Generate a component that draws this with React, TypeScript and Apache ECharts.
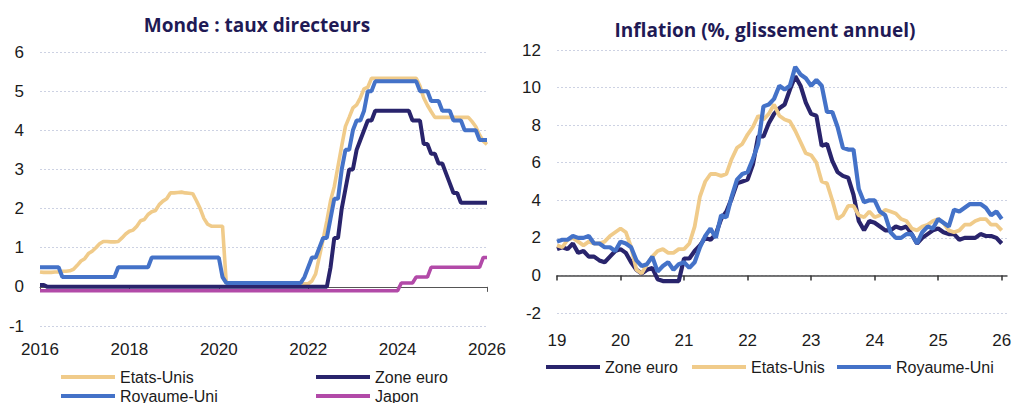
import React, { useEffect, useRef } from "react";
import * as echarts from "echarts";

// ---------- Data ----------
const RATE_START = 2016; // monthly points, first = Jan 2016
const INFL_START = 2019; // monthly points, first = Jan 2019
const RATE_TICKS = [2016, 2018, 2020, 2022, 2024, 2026];
const INFL_TICKS = [2019, 2020, 2021, 2022, 2023, 2024, 2025, 2026];
const RATE_Y_TICKS = [-1, 0, 1, 2, 3, 4, 5, 6];
const INFL_Y_TICKS = [-2, 0, 2, 4, 6, 8, 10, 12];

const RATES_US = [
  0.38, 0.37, 0.37, 0.37, 0.38, 0.38, 0.40, 0.40, 0.41, 0.45, 0.55, 0.66,
  0.72, 0.85, 0.91, 1.00, 1.10, 1.16, 1.16, 1.15, 1.15, 1.16, 1.25, 1.35,
  1.42, 1.45, 1.55, 1.69, 1.72, 1.85, 1.92, 1.95, 2.10, 2.19, 2.25, 2.40,
  2.40, 2.41, 2.42, 2.40, 2.39, 2.38, 2.20, 2.00, 1.75, 1.60, 1.55, 1.55,
  1.55, 1.55, 0.10, 0.05, 0.05, 0.08, 0.09, 0.10, 0.09, 0.09, 0.09, 0.09,
  0.09, 0.08, 0.07, 0.07, 0.06, 0.08, 0.10, 0.09, 0.08, 0.08, 0.08, 0.08,
  0.08, 0.15, 0.33, 0.77, 1.21, 1.68, 2.20, 2.56, 3.08, 3.60, 4.10, 4.33,
  4.57, 4.65, 4.83, 5.06, 5.10, 5.33, 5.33, 5.33, 5.33, 5.33, 5.33, 5.33,
  5.33, 5.33, 5.33, 5.33, 5.33, 5.33, 5.13, 4.83, 4.64, 4.48, 4.33, 4.33,
  4.33, 4.33, 4.33, 4.33, 4.33, 4.33, 4.33, 4.33, 4.22, 4.09, 3.88, 3.72,
  3.64,
];

const RATES_UK = [
  0.5, 0.5, 0.5, 0.5, 0.5, 0.5, 0.25, 0.25, 0.25, 0.25, 0.25, 0.25,
  0.25, 0.25, 0.25, 0.25, 0.25, 0.25, 0.25, 0.25, 0.25, 0.5, 0.5, 0.5,
  0.5, 0.5, 0.5, 0.5, 0.5, 0.5, 0.75, 0.75, 0.75, 0.75, 0.75, 0.75,
  0.75, 0.75, 0.75, 0.75, 0.75, 0.75, 0.75, 0.75, 0.75, 0.75, 0.75, 0.75,
  0.75, 0.25, 0.1, 0.1, 0.1, 0.1, 0.1, 0.1, 0.1, 0.1, 0.1, 0.1,
  0.1, 0.1, 0.1, 0.1, 0.1, 0.1, 0.1, 0.1, 0.1, 0.1, 0.1, 0.25,
  0.5, 0.75, 0.75, 1.0, 1.25, 1.25, 1.75, 2.25, 2.25, 3.0, 3.5, 3.5,
  4.0, 4.25, 4.25, 4.5, 5.0, 5.0, 5.25, 5.25, 5.25, 5.25, 5.25, 5.25,
  5.25, 5.25, 5.25, 5.25, 5.25, 5.25, 5.0, 5.0, 5.0, 4.75, 4.75, 4.75,
  4.5, 4.5, 4.5, 4.25, 4.25, 4.25, 4.0, 4.0, 4.0, 4.0, 3.75, 3.75,
  3.75,
];

const RATES_EZ = [
  0.05, 0.05, 0.0, 0, 0, 0, 0, 0, 0, 0, 0, 0,
  0, 0, 0, 0, 0, 0, 0, 0, 0, 0, 0, 0,
  0, 0, 0, 0, 0, 0, 0, 0, 0, 0, 0, 0,
  0, 0, 0, 0, 0, 0, 0, 0, 0, 0, 0, 0,
  0, 0, 0, 0, 0, 0, 0, 0, 0, 0, 0, 0,
  0, 0, 0, 0, 0, 0, 0, 0, 0, 0, 0, 0,
  0, 0, 0, 0, 0, 0, 0.5, 1.25, 1.25, 2.0, 2.5, 3.0,
  3.0, 3.5, 3.75, 4.0, 4.25, 4.25, 4.5, 4.5, 4.5, 4.5, 4.5, 4.5,
  4.5, 4.5, 4.5, 4.5, 4.25, 4.25, 4.25, 3.65, 3.65, 3.4, 3.4, 3.15,
  3.15, 2.9, 2.65, 2.4, 2.4, 2.15, 2.15, 2.15, 2.15, 2.15, 2.15, 2.15,
  2.15,
];

const RATES_JP = [
  -0.1, -0.1, -0.1, -0.1, -0.1, -0.1, -0.1, -0.1, -0.1, -0.1, -0.1, -0.1,
  -0.1, -0.1, -0.1, -0.1, -0.1, -0.1, -0.1, -0.1, -0.1, -0.1, -0.1, -0.1,
  -0.1, -0.1, -0.1, -0.1, -0.1, -0.1, -0.1, -0.1, -0.1, -0.1, -0.1, -0.1,
  -0.1, -0.1, -0.1, -0.1, -0.1, -0.1, -0.1, -0.1, -0.1, -0.1, -0.1, -0.1,
  -0.1, -0.1, -0.1, -0.1, -0.1, -0.1, -0.1, -0.1, -0.1, -0.1, -0.1, -0.1,
  -0.1, -0.1, -0.1, -0.1, -0.1, -0.1, -0.1, -0.1, -0.1, -0.1, -0.1, -0.1,
  -0.1, -0.1, -0.1, -0.1, -0.1, -0.1, -0.1, -0.1, -0.1, -0.1, -0.1, -0.1,
  -0.1, -0.1, -0.1, -0.1, -0.1, -0.1, -0.1, -0.1, -0.1, -0.1, -0.1, -0.1,
  -0.1, 0.1, 0.1, 0.1, 0.1, 0.25, 0.25, 0.25, 0.25, 0.5, 0.5, 0.5,
  0.5, 0.5, 0.5, 0.5, 0.5, 0.5, 0.5, 0.5, 0.5, 0.5, 0.5, 0.75,
  0.75,
];

const INFL_EZ = [
  1.4, 1.5, 1.4, 1.7, 1.2, 1.3, 1.0, 1.0, 0.8, 0.7, 1.0, 1.3,
  1.4, 1.2, 0.7, 0.3, 0.1, 0.3, 0.4, -0.2, -0.3, -0.3, -0.3, -0.3,
  0.9, 0.9, 1.3, 1.6, 2.0, 1.9, 2.2, 3.0, 3.4, 4.1, 4.9, 5.0,
  5.1, 5.9, 7.4, 7.4, 8.1, 8.6, 8.9, 9.1, 9.9, 10.6, 10.1, 9.2,
  8.6, 8.5, 6.9, 7.0, 6.1, 5.5, 5.3, 5.2, 4.3, 2.9, 2.4, 2.9,
  2.8, 2.6, 2.4, 2.4, 2.6, 2.5, 2.6, 2.2, 1.7, 2.0, 2.2, 2.4,
  2.5, 2.3, 2.2, 2.2, 1.9, 2.0, 2.0, 2.0, 2.2, 2.1, 2.1, 2.0,
  1.7,
];

const INFL_US = [
  1.6, 1.5, 1.9, 2.0, 1.8, 1.6, 1.8, 1.7, 1.7, 1.8, 2.1, 2.3,
  2.5, 2.3, 1.5, 0.3, 0.1, 0.6, 1.0, 1.3, 1.4, 1.2, 1.2, 1.4,
  1.4, 1.7, 2.6, 4.2, 5.0, 5.4, 5.4, 5.3, 5.4, 6.2, 6.8, 7.0,
  7.5, 7.9, 8.5, 8.3, 8.6, 9.1, 8.5, 8.3, 8.2, 7.7, 7.1, 6.5,
  6.4, 6.0, 5.0, 4.9, 4.0, 3.0, 3.2, 3.7, 3.7, 3.2, 3.1, 3.4,
  3.1, 3.2, 3.5, 3.4, 3.3, 3.0, 2.9, 2.5, 2.4, 2.6, 2.7, 2.9,
  3.0, 2.8, 2.4, 2.3, 2.4, 2.7, 2.7, 2.9, 3.0, 3.0, 2.7, 2.7,
  2.4,
];

const INFL_UK = [
  1.8, 1.9, 1.9, 2.1, 2.0, 2.0, 2.1, 1.7, 1.7, 1.5, 1.5, 1.3,
  1.8, 1.7, 1.5, 0.8, 0.5, 0.6, 1.0, 0.2, 0.5, 0.7, 0.3, 0.6,
  0.7, 0.4, 0.7, 1.5, 2.1, 2.5, 2.0, 3.2, 3.1, 4.2, 5.1, 5.4,
  5.5, 6.2, 7.0, 9.0, 9.1, 9.4, 10.1, 9.9, 10.1, 11.1, 10.7, 10.5,
  10.1, 10.4, 10.1, 8.7, 8.7, 7.9, 6.8, 6.7, 6.7, 4.6, 3.9, 4.0,
  4.0, 3.4, 3.2, 2.3, 2.0, 2.0, 2.2, 2.2, 1.7, 2.3, 2.6, 2.5,
  3.0, 2.8, 2.6, 3.5, 3.4, 3.6, 3.8, 3.8, 3.8, 3.6, 3.2, 3.4,
  3.0,
];

// ---------- Styles ----------
const C_US = "#f0cb8a";
const C_UK = "#4472c8";
const C_EZ = "#29246c";
const C_JP = "#b24aa8";
const FONT = "'Liberation Sans', Arial, sans-serif";
const TITLE_FONT = "'Open Sans', 'Noto Sans', sans-serif";
const TITLE_COLOR = "#1f1a55";
const TEXT_COLOR = "#1b1b1b";

const toXY = (vals: number[], start: number) => vals.map((v, i) => [start + i / 12, v]);

function buildOption() {
  const gridLine = { show: true, lineStyle: { color: "#cdd2e3", type: [2, 2], width: 1 } };
  const tickLabel = { fontFamily: FONT, fontSize: 17, color: TEXT_COLOR };

  const line = (name: string, color: string, data: number[][], xi: number, yi: number, width = 3.6) => ({
    name,
    type: "line",
    xAxisIndex: xi,
    yAxisIndex: yi,
    data,
    showSymbol: false,
    symbol: "none",
    color,
    lineStyle: { color, width },
    emphasis: { disabled: true },
  });

  const legendItem = (name: string, left: number, cy: number) => ({
    data: [name],
    left,
    top: cy - 8,
    padding: 0,
    icon: "rect",
    itemWidth: 54,
    itemHeight: 4,
    selectedMode: false,
    textStyle: { fontFamily: FONT, fontSize: 16, color: TEXT_COLOR },
  });

  const title = (text: string, x: number, y: number) => ({
    type: "text",
    x,
    y,
    style: {
      text,
      fill: TITLE_COLOR,
      fontFamily: TITLE_FONT,
      fontWeight: "bold",
      fontSize: 19,
      align: "center",
      verticalAlign: "middle",
    },
  });

  return {
    animation: false,
    backgroundColor: "#ffffff",
    graphic: [
      title("Monde : taux directeurs", 257, 25),
      title("Inflation (%, glissement annuel)", 765, 30),
    ],
    grid: [
      { left: 40, top: 52, width: 447, height: 274, outerBoundsMode: "none" },
      { left: 557, top: 50, width: 450, height: 263, outerBoundsMode: "none" },
    ],
    xAxis: [
      {
        gridIndex: 0,
        type: "value",
        min: 2016,
        max: 2026,
        interval: 2,
        position: "bottom",
        axisLine: { show: false, onZero: false },
        axisTick: { show: false },
        splitLine: { show: false },
        axisLabel: { ...tickLabel, margin: 15, customValues: RATE_TICKS, formatter: (v: number) => String(v) },
      },
      {
        gridIndex: 0,
        type: "value",
        min: 2016,
        max: 2026,
        interval: 2,
        position: "bottom",
        axisLine: { show: true, onZero: true, lineStyle: { color: "#555555", width: 1 } },
        axisTick: { show: true, length: 5, customValues: RATE_TICKS, lineStyle: { color: "#555555" } },
        splitLine: { show: false },
        axisLabel: { show: false },
      },
      {
        gridIndex: 1,
        type: "value",
        min: 2019,
        max: 2026 + 1 / 12,
        interval: 1,
        position: "bottom",
        axisLine: { show: false, onZero: false },
        axisTick: { show: false },
        splitLine: { show: false },
        axisLabel: {
          ...tickLabel,
          margin: 19,
          customValues: INFL_TICKS,
          formatter: (v: number) => (Math.abs(v - Math.round(v)) < 1e-6 ? String(Math.round(v) % 100) : ""),
        },
      },
      {
        gridIndex: 1,
        type: "value",
        min: 2019,
        max: 2026 + 1 / 12,
        interval: 1,
        position: "bottom",
        axisLine: { show: true, onZero: true, lineStyle: { color: "#4a4a4a", width: 1.5 } },
        axisTick: { show: true, length: 5, customValues: INFL_TICKS, lineStyle: { color: "#333333", width: 1.5 } },
        splitLine: { show: false },
        axisLabel: { show: false },
      },
    ],
    yAxis: [
      {
        gridIndex: 0,
        type: "value",
        min: RATE_Y_TICKS[0],
        max: RATE_Y_TICKS[RATE_Y_TICKS.length - 1],
        interval: 1,
        axisLine: { show: false },
        axisTick: { show: false },
        splitLine: gridLine,
        axisLabel: { ...tickLabel, margin: 16 },
      },
      {
        gridIndex: 1,
        type: "value",
        min: INFL_Y_TICKS[0],
        max: INFL_Y_TICKS[INFL_Y_TICKS.length - 1],
        interval: 2,
        axisLine: { show: false },
        axisTick: { show: false },
        splitLine: gridLine,
        axisLabel: { ...tickLabel, margin: 16 },
      },
    ],
    legend: [
      legendItem("Etats-Unis", 61, 377),
      legendItem("Zone euro", 316, 377),
      legendItem("Royaume-Uni", 61, 396),
      legendItem("Japon", 316, 396),
      legendItem("Zone euro", 546, 367),
      legendItem("Etats-Unis", 692, 367),
      legendItem("Royaume-Uni", 837, 367),
    ],
    series: [
      line("Etats-Unis", C_US, toXY(RATES_US, RATE_START), 0, 0, 3.6),
      line("Zone euro", C_EZ, toXY(RATES_EZ, RATE_START), 0, 0, 4),
      line("Royaume-Uni", C_UK, toXY(RATES_UK, RATE_START), 0, 0, 4),
      line("Japon", C_JP, toXY(RATES_JP, RATE_START), 0, 0, 3.6),
      line("Zone euro", C_EZ, toXY(INFL_EZ, INFL_START), 2, 1, 4.2),
      line("Etats-Unis", C_US, toXY(INFL_US, INFL_START), 2, 1, 3.8),
      line("Royaume-Uni", C_UK, toXY(INFL_UK, INFL_START), 2, 1, 4.2),
    ],
  };
}

export default function App() {
  const ref = useRef<HTMLDivElement>(null);
  useEffect(() => {
    if (!ref.current) return;
    const chart = echarts.init(ref.current, null, { renderer: "svg" });
    chart.setOption(buildOption() as any);
    return () => chart.dispose();
  }, []);
  return (
    <div
      ref={ref}
      style={{ position: "fixed", left: 0, top: 0, width: 1015, height: 403, background: "#ffffff" }}
    />
  );
}
